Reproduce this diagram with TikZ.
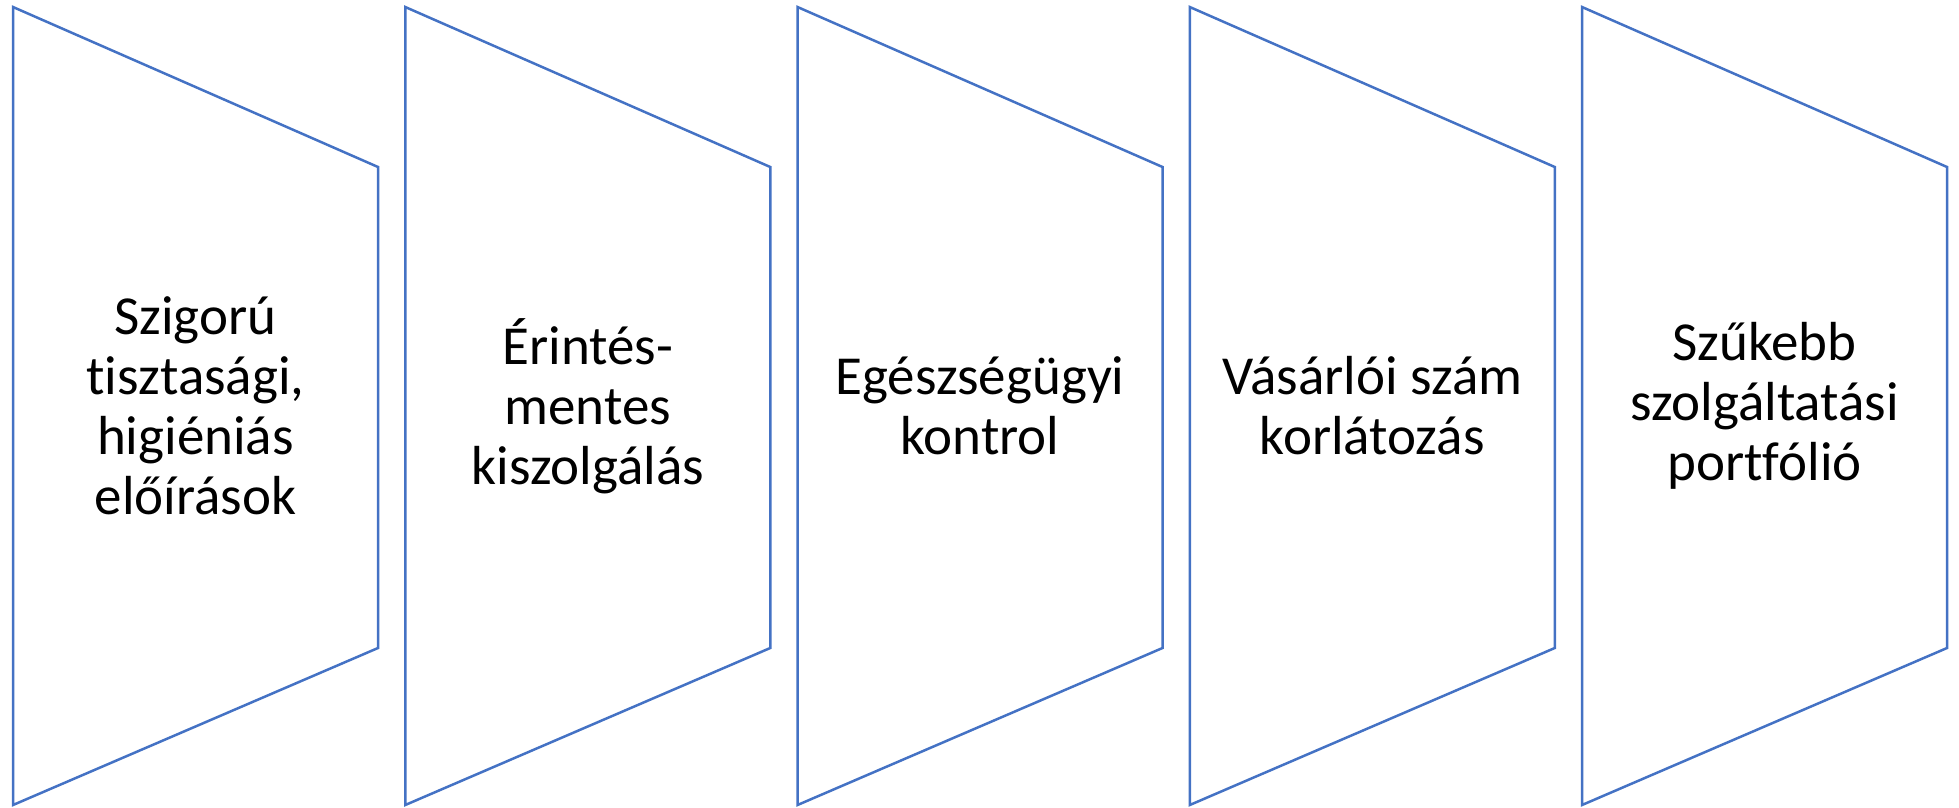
\documentclass[tikz,border=0pt]{standalone}
\usepackage{fontspec}
\setmainfont[Ligatures=NoCommon]{Carlito}
\usetikzlibrary{positioning}

\definecolor{bandblue}{HTML}{4472C4}
\tikzset{
  band/.style={draw=bandblue, line width=2.5pt, line join=miter},
  bandtext/.style={align=center, font=\fontsize{55}{60}\selectfont, inner sep=0pt}
}

\begin{document}
\begin{tikzpicture}[x=1pt, y=-1pt]
    \useasboundingbox (0,0) rectangle (1959,807);
    \foreach \i/\txt in {0/{Szigorú\\tisztasági,\\higiéniás\\előírások},
                         1/{Érintés-\\mentes\\kiszolgálás},
                         2/{Egészségügyi\\kontrol},
                         3/{Vásárlói szám\\korlátozás},
                         4/{Szűkebb\\szolgáltatási\\portfólió}} {
        \pgfmathsetmacro{\xl}{13+392.25*\i}
        \pgfmathsetmacro{\xr}{\xl+365}
        \pgfmathsetmacro{\xm}{\xl+182.5}
        \coordinate (tl\i) at (\xl,7);
        \coordinate (tr\i) at (\xr,167);
        \coordinate (br\i) at (\xr,648);
        \coordinate (bl\i) at (\xl,805);
        \draw[band] (tl\i) -- (tr\i) -- (br\i) -- (bl\i) -- cycle;
        \node[bandtext] (lbl\i) at (\xm,406) {\txt};
    }
\end{tikzpicture}
\end{document}
